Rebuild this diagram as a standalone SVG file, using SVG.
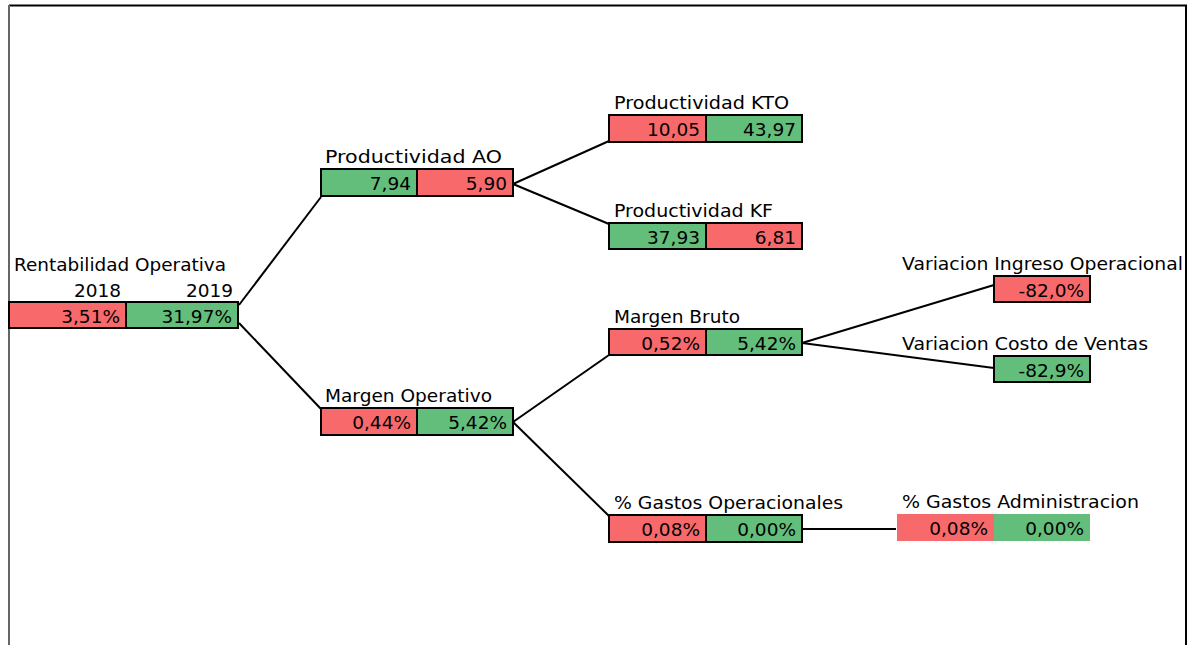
<svg xmlns="http://www.w3.org/2000/svg" width="1196" height="645" viewBox="0 0 1196 645">
<style>
text{font-family:"DejaVu Sans",Verdana,sans-serif;font-size:18.5px;fill:#000}
.v{text-anchor:end}
.r{fill:#F8696B}
.g{fill:#63BE7B}
.b{stroke:#000;stroke-width:2}
.c line{stroke:#000;stroke-width:2}
</style>
<rect width="1196" height="645" fill="#fff"/>
<g id="frame">
<line x1="9" y1="5.5" x2="1187" y2="5.5" stroke="#000" stroke-width="2"/>
<line x1="9" y1="5" x2="9" y2="645" stroke="#666" stroke-width="2"/>
<line x1="1186" y1="5" x2="1186" y2="645" stroke="#000" stroke-width="2"/>
</g>
<g class="c" id="connectors">
<line x1="239" y1="305" x2="321" y2="197"/>
<line x1="239" y1="323" x2="321" y2="409"/>
<line x1="513" y1="184" x2="609" y2="141"/>
<line x1="513" y1="184" x2="609" y2="224"/>
<line x1="513" y1="422" x2="609" y2="355"/>
<line x1="513" y1="422" x2="609" y2="516"/>
<line x1="802" y1="343" x2="994" y2="285"/>
<line x1="802" y1="343" x2="994" y2="368"/>
<line x1="803" y1="529" x2="896" y2="529"/>
</g>
<g id="root">
<text x="14" y="271" textLength="212" lengthAdjust="spacingAndGlyphs">Rentabilidad Operativa</text>
<text class="v" x="121" y="297">2018</text>
<text class="v" x="233" y="297">2019</text>
<rect class="r b" x="9" y="302" width="117" height="26"/>
<rect class="g b" x="126" y="302" width="112" height="26"/>
<text class="v" x="120" y="323">3,51%</text>
<text class="v" x="232" y="323">31,97%</text>
</g>
<g id="prodAO">
<text x="325" y="163" textLength="177" lengthAdjust="spacingAndGlyphs">Productividad AO</text>
<rect class="g b" x="321" y="169" width="96" height="27"/>
<rect class="r b" x="417" y="169" width="96" height="27"/>
<text class="v" x="411" y="190">7,94</text>
<text class="v" x="507" y="190">5,90</text>
</g>
<g id="margenOp">
<text x="325" y="402" textLength="167" lengthAdjust="spacingAndGlyphs">Margen Operativo</text>
<rect class="r b" x="321" y="408" width="96" height="27"/>
<rect class="g b" x="417" y="408" width="96" height="27"/>
<text class="v" x="411" y="429">0,44%</text>
<text class="v" x="507" y="429">5,42%</text>
</g>
<g id="prodKTO">
<text x="614" y="109" textLength="175" lengthAdjust="spacingAndGlyphs">Productividad KTO</text>
<rect class="r b" x="609" y="115" width="97" height="27"/>
<rect class="g b" x="706" y="115" width="96" height="27"/>
<text class="v" x="700" y="136">10,05</text>
<text class="v" x="796" y="136">43,97</text>
</g>
<g id="prodKF">
<text x="614" y="217" textLength="159" lengthAdjust="spacingAndGlyphs">Productividad KF</text>
<rect class="g b" x="609" y="223" width="97" height="26"/>
<rect class="r b" x="706" y="223" width="96" height="26"/>
<text class="v" x="700" y="244">37,93</text>
<text class="v" x="796" y="244">6,81</text>
</g>
<g id="margenBruto">
<text x="614" y="323" textLength="126" lengthAdjust="spacingAndGlyphs">Margen Bruto</text>
<rect class="r b" x="609" y="329" width="97" height="26"/>
<rect class="g b" x="706" y="329" width="96" height="26"/>
<text class="v" x="700" y="350">0,52%</text>
<text class="v" x="796" y="350">5,42%</text>
</g>
<g id="gastosOp">
<text x="614" y="509" textLength="229" lengthAdjust="spacingAndGlyphs">% Gastos Operacionales</text>
<rect class="r b" x="609" y="515" width="97" height="27"/>
<rect class="g b" x="706" y="515" width="96" height="27"/>
<text class="v" x="700" y="536">0,08%</text>
<text class="v" x="796" y="536">0,00%</text>
</g>
<g id="gastosAdm">
<text x="902" y="508" textLength="237" lengthAdjust="spacingAndGlyphs">% Gastos Administracion</text>
<rect class="r" x="897" y="514" width="97" height="27"/>
<rect class="g" x="994" y="514" width="96" height="27"/>
<text class="v" x="988" y="535">0,08%</text>
<text class="v" x="1084" y="535">0,00%</text>
</g>
<g id="varIngreso">
<text x="902" y="270" textLength="281" lengthAdjust="spacingAndGlyphs">Variacion Ingreso Operacional</text>
<rect class="r b" x="994" y="276" width="96" height="26"/>
<text class="v" x="1084" y="297">-82,0%</text>
</g>
<g id="varCosto">
<text x="902" y="350" textLength="246" lengthAdjust="spacingAndGlyphs">Variacion Costo de Ventas</text>
<rect class="g b" x="994" y="356" width="96" height="26"/>
<text class="v" x="1084" y="377">-82,9%</text>
</g>
</svg>
